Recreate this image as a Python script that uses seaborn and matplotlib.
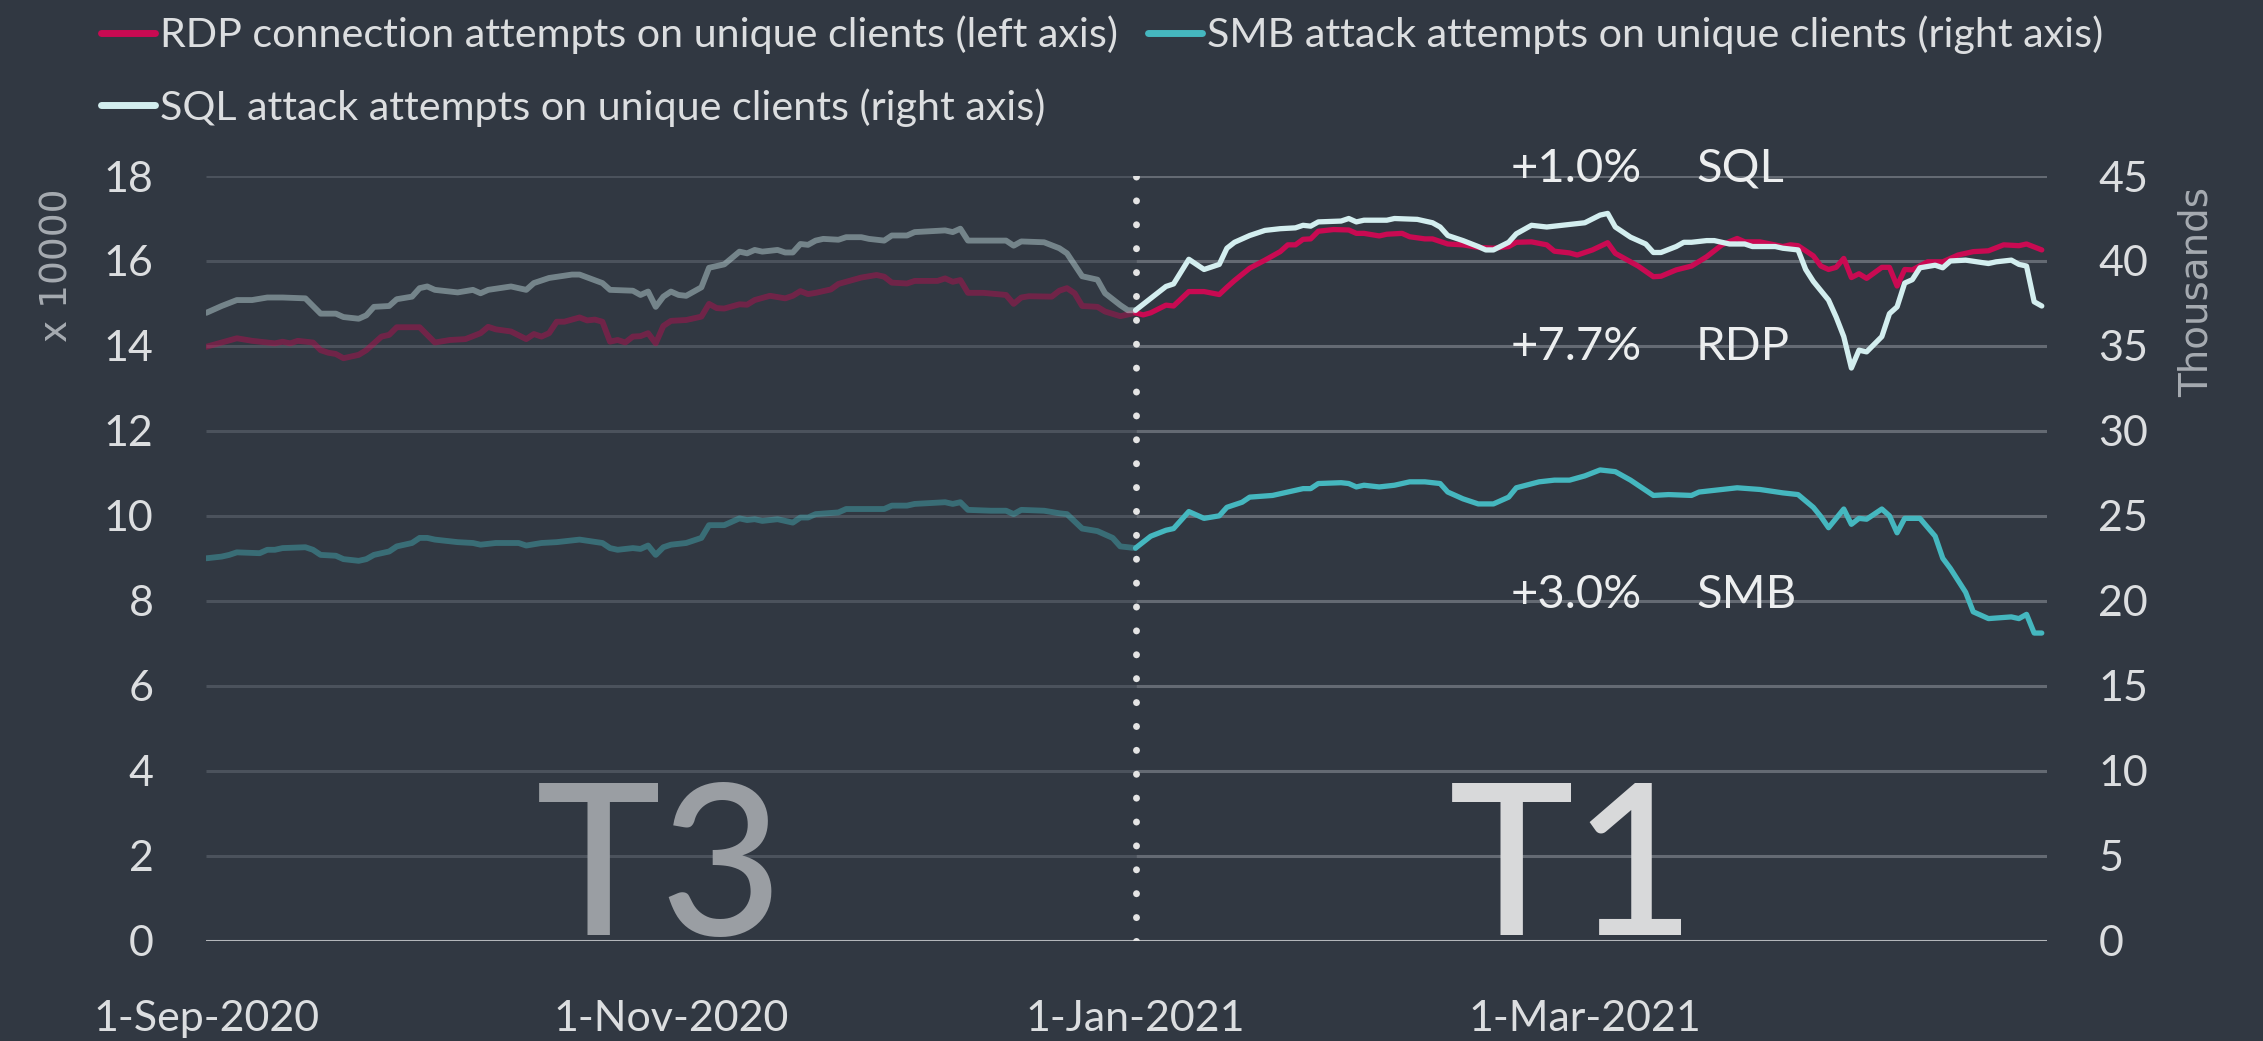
import numpy as np
import pandas as pd
import matplotlib
matplotlib.use("Agg")
import matplotlib.pyplot as plt
import matplotlib.dates as mdates
from matplotlib.lines import Line2D
import seaborn as sns

# ---------------------------------------------------------------------------
# Data: daily observations, given as day offsets from 1 Sep 2020
# RDP in units of 10 000 clients (left axis), SMB / SQL in thousands (right axis)
# ---------------------------------------------------------------------------
start_date = pd.Timestamp("2020-09-01")
split_date = pd.Timestamp("2021-01-01")
end_date = pd.Timestamp("2021-04-30")

rdp_day = [0, 2, 4, 6, 9, 10, 11, 12, 14, 15,
           16, 17, 18, 20, 21, 23, 24, 25, 28, 30,
           32, 34, 36, 37, 38, 40, 42, 43, 44, 45,
           46, 47, 49, 50, 51, 52, 53, 54, 55, 56,
           57, 58, 59, 60, 61, 63, 65, 66, 67, 68,
           70, 71, 72, 74, 76, 77, 78, 79, 80, 82,
           83, 86, 88, 89, 90, 92, 93, 96, 97, 98,
           99, 100, 102, 105, 106, 107, 108, 111, 112, 113,
           114, 115, 117, 118, 120, 122, 123, 124, 126, 127,
           129, 131, 133, 134, 135, 137, 139, 141, 142, 143,
           144, 145, 146, 148, 150, 151, 152, 154, 155, 157,
           158, 160, 161, 163, 165, 167, 169, 171, 172, 174,
           176, 177, 179, 180, 182, 184, 185, 188, 190, 191,
           193, 195, 197, 199, 201, 202, 204, 207, 208, 209,
           211, 212, 213, 214, 215, 216, 217, 218, 220, 221,
           222, 223, 224, 226, 228, 230, 232, 234, 236, 238,
           239, 241]
rdp_val = [13.98, 14.08, 14.18, 14.12, 14.06, 14.10, 14.06, 14.12, 14.08, 13.90,
           13.84, 13.81, 13.71, 13.79, 13.90, 14.22, 14.26, 14.44, 14.44, 14.08,
           14.14, 14.16, 14.30, 14.45, 14.39, 14.34, 14.16, 14.28, 14.22, 14.30,
           14.57, 14.57, 14.67, 14.60, 14.62, 14.57, 14.10, 14.14, 14.08, 14.22,
           14.23, 14.30, 14.06, 14.47, 14.59, 14.61, 14.69, 14.99, 14.89, 14.88,
           14.98, 14.97, 15.08, 15.18, 15.12, 15.18, 15.29, 15.22, 15.25, 15.33,
           15.46, 15.61, 15.67, 15.63, 15.49, 15.47, 15.53, 15.53, 15.59, 15.51,
           15.55, 15.25, 15.25, 15.20, 14.99, 15.14, 15.17, 15.16, 15.30, 15.36,
           15.24, 14.94, 14.92, 14.81, 14.70, 14.78, 14.73, 14.78, 14.96, 14.94,
           15.28, 15.28, 15.21, 15.38, 15.54, 15.83, 16.02, 16.22, 16.38, 16.38,
           16.51, 16.52, 16.70, 16.74, 16.73, 16.65, 16.65, 16.59, 16.63, 16.65,
           16.57, 16.52, 16.52, 16.40, 16.38, 16.32, 16.30, 16.34, 16.44, 16.45,
           16.38, 16.23, 16.19, 16.14, 16.26, 16.43, 16.18, 15.88, 15.63, 15.64,
           15.79, 15.88, 16.10, 16.38, 16.53, 16.45, 16.45, 16.34, 16.38, 16.36,
           16.12, 15.88, 15.80, 15.85, 16.06, 15.61, 15.70, 15.59, 15.85, 15.85,
           15.41, 15.80, 15.79, 15.98, 15.98, 16.14, 16.22, 16.24, 16.38, 16.36,
           16.40, 16.26]

sql_day = [0, 2, 4, 6, 8, 10, 13, 15, 17, 18,
           20, 21, 22, 24, 25, 27, 28, 29, 30, 33,
           35, 36, 37, 40, 42, 43, 45, 48, 49, 52,
           53, 56, 57, 58, 59, 60, 61, 62, 63, 64,
           65, 66, 68, 70, 71, 72, 73, 75, 76, 77,
           78, 79, 80, 81, 83, 84, 86, 87, 89, 90,
           92, 93, 95, 97, 98, 99, 100, 102, 105, 106,
           107, 110, 112, 113, 115, 117, 118, 120, 121, 122,
           124, 126, 127, 129, 131, 133, 134, 135, 137, 139,
           141, 143, 144, 145, 146, 149, 150, 151, 152, 155,
           156, 159, 161, 162, 163, 165, 167, 168, 169, 171,
           172, 174, 176, 178, 181, 183, 184, 185, 187, 189,
           190, 191, 193, 194, 195, 197, 198, 200, 202, 203,
           206, 207, 209, 210, 211, 213, 214, 215, 216, 217,
           218, 220, 221, 222, 223, 224, 225, 227, 228, 229,
           231, 234, 235, 237, 238, 239, 240, 241]
sql_val = [36.95, 37.35, 37.7, 37.7, 37.85, 37.85, 37.8, 36.9, 36.9, 36.7,
           36.6, 36.8, 37.3, 37.35, 37.75, 37.9, 38.4, 38.5, 38.3, 38.15,
           38.3, 38.1, 38.3, 38.5, 38.3, 38.7, 39.0, 39.2, 39.2, 38.7,
           38.3, 38.25, 38.0, 38.2, 37.3, 37.9, 38.2, 38.0, 37.95, 38.2,
           38.45, 39.6, 39.8, 40.55, 40.45, 40.65, 40.55, 40.65, 40.5, 40.5,
           41.0, 40.95, 41.2, 41.3, 41.25, 41.4, 41.4, 41.3, 41.2, 41.5,
           41.5, 41.7, 41.75, 41.8, 41.7, 41.9, 41.2, 41.2, 41.2, 40.9,
           41.15, 41.1, 40.75, 40.45, 39.1, 38.9, 38.1, 37.4, 37.1, 37.1,
           37.8, 38.5, 38.65, 40.1, 39.5, 39.8, 40.75, 41.1, 41.5, 41.8,
           41.9, 41.95, 42.1, 42.05, 42.3, 42.35, 42.5, 42.3, 42.4, 42.4,
           42.5, 42.45, 42.25, 42.0, 41.5, 41.2, 40.85, 40.65, 40.65, 41.1,
           41.6, 42.1, 42.0, 42.1, 42.25, 42.7, 42.8, 42.0, 41.4, 41.0,
           40.5, 40.5, 40.85, 41.1, 41.1, 41.2, 41.2, 41.0, 41.0, 40.85,
           40.85, 40.75, 40.65, 39.5, 38.8, 37.7, 36.7, 35.55, 33.7, 34.75,
           34.65, 35.55, 36.9, 37.3, 38.7, 38.9, 39.6, 39.75, 39.6, 40.0,
           40.05, 39.85, 39.95, 40.05, 39.8, 39.7, 37.6, 37.35]

smb_day = [0, 2, 3, 4, 7, 8, 9, 10, 13, 14,
           15, 17, 18, 20, 21, 22, 24, 25, 27, 28,
           29, 30, 33, 35, 36, 38, 41, 42, 44, 46,
           49, 52, 53, 54, 56, 57, 58, 59, 60, 61,
           63, 65, 66, 68, 70, 71, 72, 73, 75, 77,
           78, 79, 80, 83, 84, 86, 89, 90, 92, 93,
           97, 98, 99, 100, 103, 105, 106, 107, 110, 112,
           113, 115, 117, 119, 120, 122, 124, 126, 127, 129,
           131, 133, 134, 136, 137, 140, 141, 143, 144, 145,
           146, 149, 150, 151, 152, 154, 156, 158, 160, 162,
           163, 165, 167, 169, 171, 172, 175, 177, 179, 181,
           183, 185, 187, 190, 192, 195, 196, 199, 201, 204,
           207, 209, 211, 212, 213, 215, 216, 217, 218, 220,
           221, 222, 223, 225, 227, 228, 229, 231, 232, 234,
           237, 238, 239, 240, 241]
smb_val = [22.5, 22.6, 22.7, 22.85, 22.8, 23.0, 23.0, 23.1, 23.15, 23.0,
           22.7, 22.65, 22.45, 22.35, 22.45, 22.7, 22.9, 23.2, 23.4, 23.7,
           23.7, 23.6, 23.45, 23.4, 23.3, 23.4, 23.4, 23.25, 23.4, 23.45,
           23.6, 23.4, 23.1, 23.0, 23.1, 23.05, 23.25, 22.7, 23.15, 23.3,
           23.4, 23.7, 24.45, 24.45, 24.85, 24.75, 24.8, 24.7, 24.8, 24.6,
           24.9, 24.9, 25.1, 25.2, 25.4, 25.4, 25.4, 25.6, 25.6, 25.7,
           25.8, 25.7, 25.8, 25.35, 25.3, 25.3, 25.1, 25.35, 25.3, 25.15,
           25.1, 24.25, 24.1, 23.7, 23.2, 23.1, 23.8, 24.15, 24.25, 25.25,
           24.85, 25.0, 25.5, 25.8, 26.1, 26.2, 26.3, 26.5, 26.6, 26.6,
           26.9, 26.95, 26.9, 26.7, 26.8, 26.7, 26.8, 27.0, 27.0, 26.9,
           26.4, 26.0, 25.7, 25.7, 26.1, 26.65, 27.0, 27.1, 27.1, 27.35,
           27.7, 27.6, 27.1, 26.2, 26.25, 26.2, 26.4, 26.55, 26.65, 26.55,
           26.35, 26.25, 25.5, 24.95, 24.3, 25.4, 24.5, 24.85, 24.8, 25.4,
           25.0, 24.0, 24.85, 24.85, 23.8, 22.5, 21.9, 20.5, 19.35, 18.95,
           19.05, 18.95, 19.2, 18.1, 18.1]

series_names = ["RDP", "SQL", "SMB"]
series_legend = ["RDP connection attempts on unique clients (left axis)",
                 "SQL attack attempts on unique clients (right axis)",
                 "SMB attack attempts on unique clients (right axis)"]
series_change = ["+7.7%", "+1.0%", "+3.0%"]
period_labels = ["T3", "T1"]

x_tick_dates = ["2020-09-01", "2020-11-01", "2021-01-01", "2021-03-01"]
x_tick_labels = ["1-Sep-2020", "1-Nov-2020", "1-Jan-2021", "1-Mar-2021"]
left_ticks = list(range(0, 19, 2))
right_ticks = list(range(0, 46, 5))

# ---------------------------------------------------------------------------
# Styling
# ---------------------------------------------------------------------------
BG = "#313842"
RDP_C = "#c90a52"
SMB_C = "#45b7bf"
SQL_C = "#d3eeef"
TEXT_C = "#dcdee0"
LABEL_C = "#a6abb1"

sns.set_style("dark", {"axes.facecolor": BG, "figure.facecolor": BG})
plt.rcParams["font.family"] = ["Lato", "DejaVu Sans"]

fig = plt.figure(figsize=(22.63, 10.41), dpi=100, facecolor=BG)
ax = fig.add_axes([0.0912, 0.0965, 0.8134, 0.7344])
ax.set_facecolor(BG)
ax2 = ax.twinx()
ax2.patch.set_visible(False)


def frame(days, vals):
    return pd.DataFrame({"date": start_date + pd.to_timedelta(days, unit="D"),
                         "value": vals})


series = [
    (frame(rdp_day, rdp_val), ax, RDP_C),
    (frame(smb_day, smb_val), ax2, SMB_C),
    (frame(sql_day, sql_val), ax2, SQL_C),
]

for df, target, color in series:
    before = df[df["date"] <= split_date]
    after = df[df["date"] >= split_date]
    sns.lineplot(data=before, x="date", y="value", ax=target, color=color,
                 alpha=0.42, linewidth=4.2, estimator=None, legend=False, zorder=3)
    sns.lineplot(data=after, x="date", y="value", ax=target, color=color,
                 alpha=1.0, linewidth=3.8, estimator=None, legend=False, zorder=3)

x0 = mdates.date2num(start_date)
xs = mdates.date2num(split_date)
x1 = mdates.date2num(end_date) + 0.7

# gridlines: dimmer over the earlier period
grid_levels = left_ticks[1:]
ax.hlines(grid_levels, x0, xs, color="#4b525c", lw=2.2, zorder=0.5)
ax.hlines(grid_levels, xs, x1, color="#646a73", lw=2.2, zorder=0.5)
ax.axhline(0, color="#b4b7bb", lw=2.2, zorder=1)

# period separator
ax2.axvline(xs, ymin=0, ymax=1, color="#e4e4e4", lw=5,
            linestyle=(0, (0.01, 3.43)), dash_capstyle="round", zorder=6)

for a in (ax, ax2):
    a.set_xlim(x0, x1)
    a.set_xlabel("")
    a.set_ylabel("")
    for s in a.spines.values():
        s.set_visible(False)
    a.grid(False)

ax.set_ylim(0, 18)
ax2.set_ylim(0, 45)
ax.set_yticks(left_ticks)
ax.set_yticklabels([str(t) for t in left_ticks])
ax2.set_yticks(right_ticks)
ax2.set_yticklabels([str(t) for t in right_ticks])

ax.set_xticks([mdates.date2num(pd.Timestamp(d)) for d in x_tick_dates])
ax.set_xticklabels(x_tick_labels)

ax.tick_params(axis="x", direction="out", length=11, width=1.5, color="#b4b7bb",
               pad=32, labelsize=31, labelcolor=TEXT_C)
ax.tick_params(axis="y", length=0, pad=38, labelsize=31, labelcolor=TEXT_C)
ax2.tick_params(axis="y", length=0, pad=37, labelsize=31, labelcolor=TEXT_C)
ax2.tick_params(axis="x", length=0)

# period labels
ax.text(mdates.date2num(start_date + pd.Timedelta(days=59.5)), 0.13, period_labels[0],
        ha="center", va="baseline", fontsize=152, color="#9a9ea3",
        fontweight="medium", zorder=2)
ax.text(mdates.date2num(start_date + pd.Timedelta(days=179.4)), 0.13, period_labels[1],
        ha="center", va="baseline", fontsize=152, color="#d8d9da",
        fontweight="medium", zorder=2)

# change annotations
change_rows = {"SQL": 17.86, "RDP": 13.67, "SMB": 7.83}
for name, change in zip(series_names, series_change):
    yb = change_rows[name]
    ax.text(mdates.date2num(start_date + pd.Timedelta(days=171.2)), yb, change,
            ha="left", va="baseline", fontsize=34, color="#eceeef", zorder=7)
    ax.text(mdates.date2num(start_date + pd.Timedelta(days=195.6)), yb, name,
            ha="left", va="baseline", fontsize=34, color="#eceeef", zorder=7)

# axis titles
fig.text(0.0256, 0.7454, "x 10000", rotation=90, ha="center", va="center",
         fontsize=27, color=LABEL_C, family="DejaVu Sans")
fig.text(0.9705, 0.7195, "Thousands", rotation=90, ha="center", va="center",
         fontsize=28, color=LABEL_C, family="DejaVu Sans")

# legend: RDP and SMB on the first row, SQL below
handles = [Line2D([], [], color=RDP_C, lw=5, solid_capstyle="round"),
           Line2D([], [], color=SQL_C, lw=5, solid_capstyle="round"),
           Line2D([], [], color=SMB_C, lw=5, solid_capstyle="round")]
leg = fig.legend(handles, series_legend, ncol=2, loc="upper left",
                 bbox_to_anchor=(0.0445, 0.985), frameon=False, fontsize=29.7,
                 handlelength=1.32, handletextpad=0.12, columnspacing=0.72,
                 labelspacing=0.82, borderpad=0, borderaxespad=0)
for t in leg.get_texts():
    t.set_color(TEXT_C)

fig.savefig("out.png", dpi=100, facecolor=BG)
